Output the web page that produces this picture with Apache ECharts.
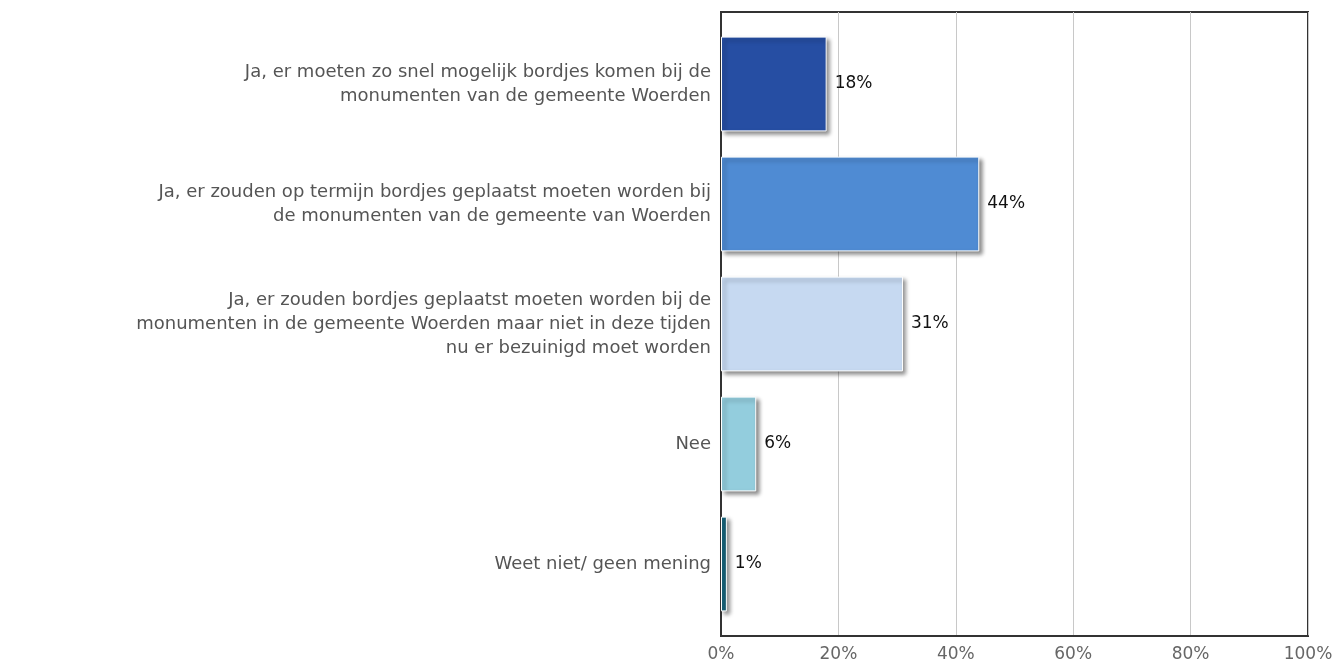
<html lang="nl">
<head>
<meta charset="UTF-8">
<title>Bordjes monumenten</title>
<script src="https://cdn.jsdelivr.net/npm/echarts@6/dist/echarts.min.js"></script>
<style>
html, body { margin: 0; padding: 0; background: #fff; }
#chart { width: 1341px; height: 664px; }
</style>
</head>
<body>
<div id="chart"></div>
<script>
// antwoordcategorieen (regels zoals in het origineel afgebroken)
var categories = [
    'Ja, er moeten zo snel mogelijk bordjes komen bij de\nmonumenten van de gemeente Woerden',
    'Ja, er zouden op termijn bordjes geplaatst moeten worden bij\nde monumenten van de gemeente van Woerden',
    'Ja, er zouden bordjes geplaatst moeten worden bij de\nmonumenten in de gemeente Woerden maar niet in deze tijden\nnu er bezuinigd moet worden',
    'Nee',
    'Weet niet/ geen mening'
];
var percentages = [18, 44, 31, 6, 1];
var barColors = ['#264ea3', '#4f8bd3', '#c6d9f1', '#93cddd', '#17637a'];
var xTicks = [0, 20, 40, 60, 80, 100];

var myChart = echarts.init(document.getElementById('chart'));

var font = 'DejaVu Sans';

option = {
    animation: false,
    grid: [
        // kader + rasterlijnen
        { left: 721, right: 33, top: 12, bottom: 28, show: true, borderColor: '#333', borderWidth: 2 },
        // balken (categorieen beginnen iets onder de bovenrand)
        { left: 721, right: 33, top: 24, bottom: 40 }
    ],
    xAxis: [{
        gridIndex: 0,
        type: 'value',
        min: xTicks[0],
        max: xTicks[xTicks.length - 1],
        interval: 20,
        axisLine: { show: true, lineStyle: { color: '#333', width: 2 } },
        axisTick: { show: false },
        axisLabel: {
            color: '#666', fontFamily: font, fontSize: 17, margin: 10,
            formatter: '{value}%'
        },
        splitLine: { show: true, lineStyle: { color: '#c8c8c8', width: 1 } }
    }, {
        gridIndex: 1,
        type: 'value',
        min: xTicks[0],
        max: xTicks[xTicks.length - 1],
        show: false
    }],
    yAxis: [{
        gridIndex: 0,
        type: 'value',
        min: 0, max: 1,
        axisLine: { show: true, lineStyle: { color: '#333', width: 2 } },
        axisTick: { show: false },
        axisLabel: { show: false },
        splitLine: { show: false }
    }, {
        gridIndex: 1,
        type: 'category',
        inverse: true,
        data: categories,
        axisLine: { show: false },
        axisTick: { show: false },
        axisLabel: {
            color: '#555', fontFamily: font, fontSize: 18, lineHeight: 24,
            margin: 10, align: 'right'
        }
    }],
    series: [{
        type: 'bar',
        xAxisIndex: 1,
        yAxisIndex: 1,
        data: percentages.map(function (v, i) {
            return { value: v, itemStyle: { color: barColors[i] } };
        }),
        barCategoryGap: '21%',
        itemStyle: {
            borderColor: '#fff', borderWidth: 1,
            shadowColor: 'rgba(0,0,0,0.45)', shadowBlur: 4,
            shadowOffsetX: 3, shadowOffsetY: 3
        },
        label: {
            show: true, position: 'right', distance: 8,
            color: '#111', fontFamily: font, fontSize: 17,
            formatter: '{c}%'
        }
    }]
};

myChart.setOption(option);
</script>
</body>
</html>
